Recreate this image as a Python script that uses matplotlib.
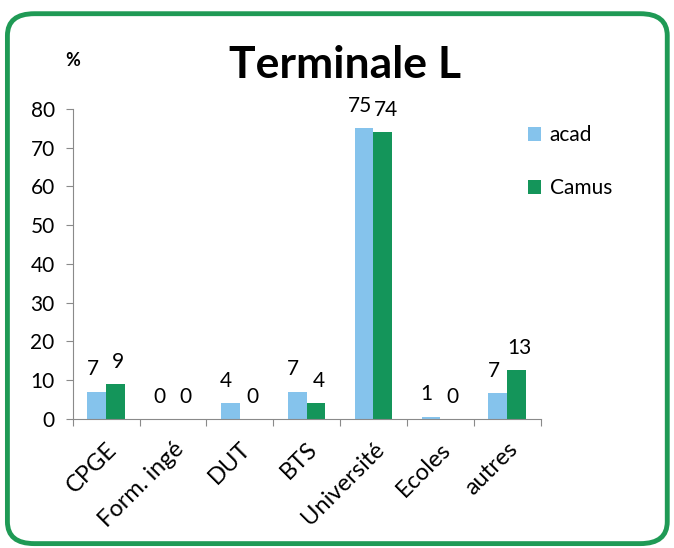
''' Terminale L - poursuite d'etudes '''

import numpy as np
import matplotlib.pyplot as plt
from matplotlib.patches import FancyBboxPatch

# data
categories = ['CPGE', 'Form. ingé', 'DUT', 'BTS', 'Université', 'Ecoles', 'autres']
acad = [7, 0, 4, 7, 75, 0.6, 6.6]
camus = [9, 0, 0, 4, 74, 0, 12.6]
acad_labels = ['7', '0', '4', '7', '75', '1', '7']
camus_labels = ['9', '0', '0', '4', '74', '0', '13']

blue = '#85c3ec'
green = '#14955a'
grey = '#8a8a8a'

plt.rcParams['font.family'] = ['Lato', 'DejaVu Sans']

fig = plt.figure(figsize=(6.74, 5.48), dpi=100)

# rounded green frame
frame = FancyBboxPatch((0.011, 0.008), 0.979, 0.967, transform=fig.transFigure,
                       boxstyle='round,pad=0,rounding_size=0.04',
                       facecolor='none', edgecolor='#1f9a55', linewidth=3.5, zorder=5)
fig.patches.append(frame)

ax = fig.add_axes([0.108, 0.2354, 0.694, 0.566])
ax.set_facecolor('none')

x = np.arange(len(categories))
w = 0.28
ax.bar(x - w/2, acad, w, color=blue, label='acad')
ax.bar(x + w/2, camus, w, color=green, label='Camus')

# value labels
for i in range(len(categories)):
    ax.annotate(acad_labels[i], (x[i] - w/2, acad[i]), xytext=(-3, 9),
                textcoords='offset points', ha='center', va='bottom', fontsize=15)
    ax.annotate(camus_labels[i], (x[i] + w/2, camus[i]), xytext=(2, 9),
                textcoords='offset points', ha='center', va='bottom', fontsize=15)

ax.set_xlim(-0.5, len(categories) - 0.5)
ax.set_ylim(0, 80)
ax.set_yticks(np.arange(0, 81, 10))
ax.tick_params(axis='y', labelsize=15, length=5, color=grey, pad=8)
ax.set_xticks(np.arange(-0.5, len(categories), 1))
ax.set_xticklabels([])
ax.set_xticks(x, minor=True)
ax.set_xticklabels(categories, minor=True, rotation=45, ha='right',
                   rotation_mode='anchor', fontsize=17)
ax.tick_params(axis='x', which='major', length=5, color=grey)
ax.tick_params(axis='x', which='minor', length=0, pad=14)

for s in ['top', 'right']:
    ax.spines[s].set_visible(False)
ax.spines['left'].set_color(grey)
ax.spines['bottom'].set_color(grey)

fig.text(0.512, 0.882, 'Terminale L', ha='center', va='center',
         fontsize=32, fontweight='bold')
fig.text(0.108, 0.89, '%', ha='center', va='center', fontsize=13, fontweight='bold')

fig.legend(loc='upper left', bbox_to_anchor=(0.783, 0.772), frameon=False,
           fontsize=15, handlelength=0.65, handleheight=0.65, labelspacing=1.6,
           handletextpad=0.4, borderpad=0, borderaxespad=0)

fig.savefig('out.png', dpi=100)
